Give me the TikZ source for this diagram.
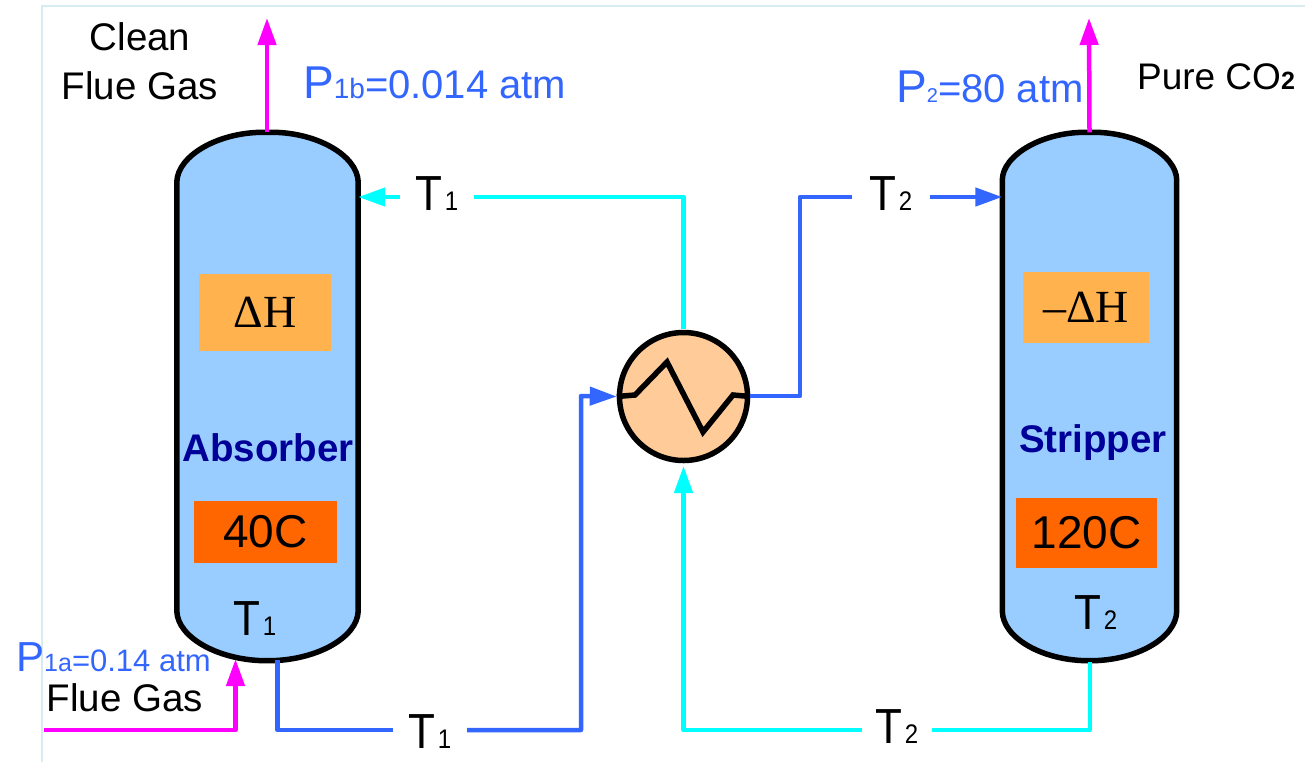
\documentclass[tikz,border=0pt]{standalone}
\usepackage{fontspec}
\usepackage{graphicx}
\setmainfont{Liberation Sans}
\newfontfamily\serifmath{Liberation Serif}
\usetikzlibrary{arrows.meta}
\definecolor{vesselblue}{HTML}{99CCFF}
\definecolor{hxfill}{HTML}{FFCC99}
\definecolor{heatorange}{HTML}{FFB24D}
\definecolor{tempred}{HTML}{FF6600}
\definecolor{lineblue}{HTML}{3366FF}
\definecolor{linecyan}{HTML}{00FFFF}
\definecolor{linemag}{HTML}{FF00FF}
\definecolor{navy}{HTML}{000099}
\definecolor{framec}{HTML}{D6ECF1}
\newcommand{\fs}[1]{\fontsize{#1}{#1}\selectfont}
\newcommand{\Tsub}[1]{\scalebox{1}[1.12]{T\kern2pt{\fs{24}#1}}}
\tikzset{
  vesselline/.style={line width=5.5pt,draw=black,fill=vesselblue},
  vesselbox/.style={minimum width=181pt,minimum height=528pt,inner sep=0pt,draw=none},
  flow/.style={line width=4.5pt,line join=round},
  head/.style={-{Triangle[length=27pt,width=18pt]}},
  tlabel/.style={inner sep=0pt,text height=30pt,text depth=4pt,font=\fs{44},text=black,align=center},
  heatbox/.style={inner sep=0pt,font=\serifmath\fs{46},text=black},
  tempbox/.style={inner sep=0pt,fill=tempred,font=\fs{46},text=black},
  blackt/.style={inner sep=0pt,text=black,font=\fs{38.5},align=center},
  bluet/.style={inner sep=0pt,text=lineblue,anchor=base west},
  namet/.style={inner sep=0pt,text=navy,font=\fs{38.5}\bfseries}
}
\begin{document}
\begin{tikzpicture}[x=1pt,y=-1pt]
\useasboundingbox (0,0) rectangle (1305,764);
\draw[framec,line width=2.2pt] (42,762) -- (42,6) -- (1305,6);

% vessels
\node[vesselbox] (abs) at (267.5,396.5) {};
\node[vesselbox,minimum width=174pt] (str) at (1089.5,396.5) {};
\draw[vesselline] (abs.west |- 0,182) .. controls (177.5,155) and (220,131) .. (abs.north)
  .. controls (315,131) and (357.5,155) .. (abs.east |- 0,182) -- (abs.east |- 0,611)
  .. controls (357.5,638) and (315,661) .. (abs.south)
  .. controls (220,661) and (177.5,638) .. (abs.west |- 0,611) -- cycle;
\draw[vesselline] (str.west |- 0,180) .. controls (1002.5,155) and (1043,131) .. (str.north)
  .. controls (1136,131) and (1176.5,155) .. (str.east |- 0,180) -- (str.east |- 0,611)
  .. controls (1176.5,638) and (1136,661) .. (str.south)
  .. controls (1043,661) and (1002.5,638) .. (str.west |- 0,611) -- cycle;

% boxes in vessels
\node[heatbox,fill=heatorange,minimum width=132pt,minimum height=77pt] (dh1) at (265,312.5) {ΔH};
\node[heatbox,fill=heatorange,minimum width=126pt,minimum height=71pt] (dh2) at (1086,307.5) {–ΔH};
\node[tempbox,minimum width=143pt,minimum height=62pt] (t40) at (265.5,532) {40C};
\node[tempbox,minimum width=141pt,minimum height=70pt] (t120) at (1086.5,533) {120C};
\node[namet] (absname) at (268,448) {Absorber};
\node[namet] (strname) at (1093,443) {Stripper};
\node[tlabel] (tv1) at (255,622) {\Tsub{1}};
\node[tlabel] (tv2) at (1096,616) {\Tsub{2}};

% exchanger
\node[circle,draw=black,line width=5.5pt,fill=hxfill,minimum size=128pt,inner sep=0pt] (hx) at (683.5,396.5) {};
\draw[line width=5.5pt,line join=miter] (hx.west) -- (635,395) -- (667,362) -- (703,432) -- (733,395) -- (hx.east);

% stream labels
\node[tlabel,minimum width=74pt] (t1top) at (437,197) {\Tsub{1}};
\node[tlabel,minimum width=78pt] (t2top) at (891,197) {\Tsub{2}};
\node[tlabel,minimum width=74pt,text height=36pt,text depth=0pt] (t1bot) at (430,730) {\Tsub{1}};
\node[tlabel,minimum width=70pt] (t2bot) at (897,730) {\Tsub{2}};

% connectors
\coordinate (abslow) at (277.5,660);
\coordinate (strlow) at (1090,662);
\coordinate (fluein) at (44,730);
\coordinate (absin) at (235.5,659);
\coordinate (topA) at (267,18);
\coordinate (topS) at (1089,18);
\coordinate (bendB) at (581,396);
\coordinate (bendR) at (800,396);
\coordinate (hxtop) at (683.5,329);
\coordinate (hxbot) at (683.5,466);

\draw[flow,draw=linemag,head] (abs.north) ++(-0.5,0) -- (topA);
\draw[flow,draw=linemag,head] (str.north) -- (topS);
\draw[flow,draw=linemag,head] (fluein) -- (fluein -| absin) -- (absin);

\draw[flow,draw=lineblue] (abslow) |- (t1bot.west);
\draw[flow,draw=lineblue,head] (t1bot.east) -- (bendB |- t1bot.east) -- (bendB) -- (hx.west);
\draw[flow,draw=lineblue] (hx.east) ++(0,-0.5) -- (bendR) |- (t2top.west);
\draw[flow,draw=lineblue,head] (t2top.east) -- (t2top.east -| str.west);

\draw[flow,draw=linecyan] (hxtop) |- (t1top.east);
\draw[flow,draw=linecyan,head] (t1top.west) -- (t1top.west -| abs.east);
\draw[flow,draw=linecyan] (strlow) |- (t2bot.east);
\draw[flow,draw=linecyan,head] (t2bot.west) -- (t2bot.west -| hxbot) -- (hxbot);

% text
\node[blackt] (clean) at (140,61) {Clean\\[10pt]Flue Gas};
\node[blackt,font=\fs{37}] (pureco) at (1216,77) {Pure CO{\fs{25}\bfseries 2}};
\node[blackt] (flue) at (125,698) {Flue Gas};
\node[bluet] (p1b) at (303,98) {\fs{46}P{\fs{28}1b}{\fs{40}=0.014 atm}};
\node[bluet] (p2) at (896,102) {\fs{46}P{\fs{20}2}{\fs{40}=80 atm}};
\node[bluet] (p1a) at (16,671) {\fs{42}P{\fs{25}1a}{\fs{31}=0.14 atm}};
\end{tikzpicture}
\end{document}
